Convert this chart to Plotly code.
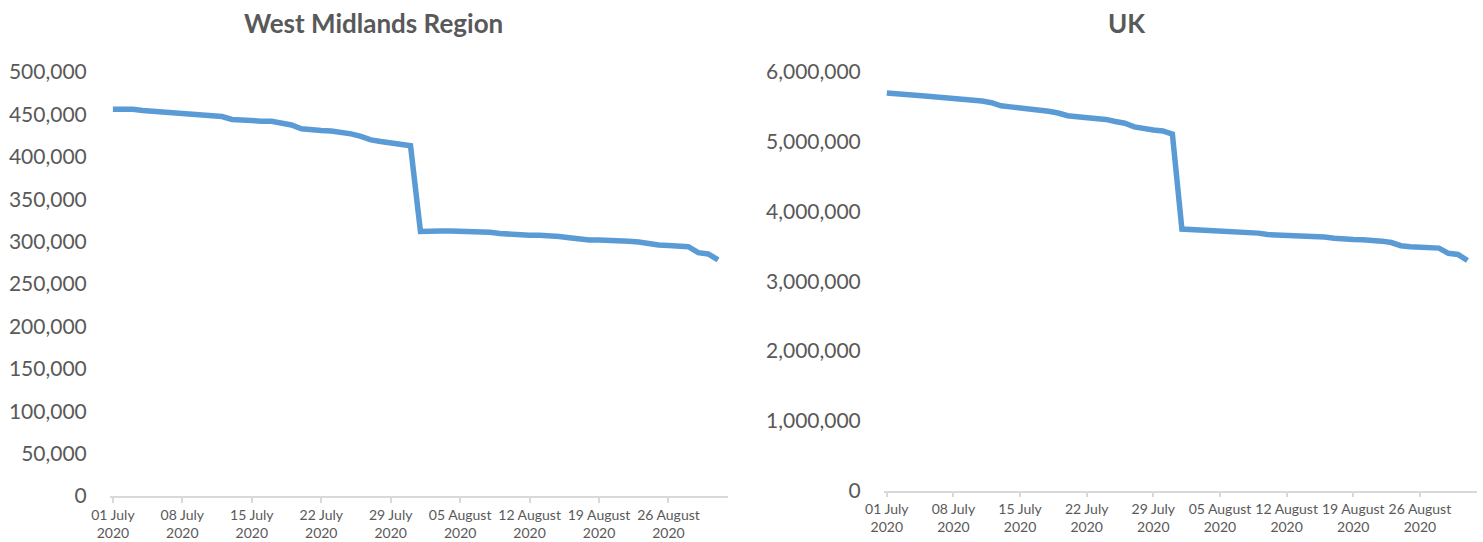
import pandas as pd
import plotly.graph_objects as go

W, H = 1483, 542

dates = pd.date_range("2020-07-01", "2020-08-31", freq="D")

west_midlands = [
    456000, 456500, 456000, 454500, 453500, 453000, 452000, 450000, 449500, 449500,
    448500, 447500, 444000, 443000, 443000, 442000, 442000, 440000, 437500, 433000,
    431500, 431000, 430500, 429500, 427000, 424000, 420000, 418000, 416500, 416000,
    413000, 312000, 311500, 312500, 312500, 312500, 312000, 311500, 311000, 309500,
    308500, 307500, 307500, 307500, 307500, 306000, 304500, 302500, 302000, 302000,
    302000, 301000, 300500, 299500, 297000, 296000, 295500, 295000, 294000, 287000,
    285500, 278500,
]

uk = [
    5700000, 5695000, 5685000, 5668000, 5655000, 5645000, 5630000, 5617000, 5608000, 5597000,
    5585000, 5560000, 5515000, 5500000, 5485000, 5472000, 5462000, 5437000, 5412000, 5373000,
    5360000, 5345000, 5343000, 5320000, 5290000, 5265000, 5213000, 5185000, 5168000, 5155000,
    5110000, 3748000, 3742000, 3733000, 3715000, 3713000, 3713000, 3710000, 3700000, 3690000,
    3670000, 3666000, 3665000, 3663000, 3658000, 3650000, 3633000, 3618000, 3600000, 3598000,
    3595000, 3590000, 3575000, 3555000, 3510000, 3495000, 3490000, 3485000, 3475000, 3400000,
    3385000, 3297000,
]

tick_dates = ["2020-07-01", "2020-07-08", "2020-07-15", "2020-07-22", "2020-07-29",
              "2020-08-05", "2020-08-12", "2020-08-19", "2020-08-26"]
tick_labels = ["01 July<br>2020", "08 July<br>2020", "15 July<br>2020", "22 July<br>2020",
               "29 July<br>2020", "05 August<br>2020", "12 August<br>2020",
               "19 August<br>2020", "26 August<br>2020"]

titles = ["West Midlands Region", "UK"]

LINE = "#5b9bd5"
TXT = "#595959"
AX = "#d9d9d9"
FONT = "Lato"

fig = go.Figure()
fig.add_trace(go.Scatter(x=dates, y=west_midlands, mode="lines",
                         line=dict(color=LINE, width=5.5), xaxis="x", yaxis="y",
                         showlegend=False, hoverinfo="skip"))
fig.add_trace(go.Scatter(x=dates, y=uk, mode="lines",
                         line=dict(color=LINE, width=5.5), xaxis="x2", yaxis="y2",
                         showlegend=False, hoverinfo="skip"))

def px(x):
    return x / W

def py(y):
    return (H - y) / H

xcommon = dict(
    type="date",
    range=["2020-06-30 17:00", "2020-09-01 00:00"],
    tickvals=tick_dates, ticktext=tick_labels,
    showgrid=False, zeroline=False,
    showline=True, linecolor=AX, linewidth=1.5,
    ticks="outside", ticklen=5, tickcolor=AX, tickwidth=1.5,
    tickfont=dict(family=FONT, size=14, color=TXT),
    tickangle=0, fixedrange=True, automargin=False,
)
ycommon = dict(
    showgrid=False, zeroline=False, showline=False,
    ticks="outside", ticklen=18, tickcolor="rgba(0,0,0,0)",
    tickfont=dict(family=FONT, size=21, color=TXT),
    tickformat=",d", fixedrange=True, automargin=False,
)

fig.update_layout(
    width=W, height=H,
    margin=dict(l=0, r=0, t=0, b=0, autoexpand=False),
    paper_bgcolor="white", plot_bgcolor="white",
    xaxis=dict(domain=[px(110), px(728)], anchor="y", **xcommon),
    yaxis=dict(domain=[py(496), py(72)], anchor="x", range=[0, 500000],
               tickvals=list(range(0, 500001, 50000)), **ycommon),
    xaxis2=dict(domain=[px(884), px(1477)], anchor="y2", **xcommon),
    yaxis2=dict(domain=[py(490.5), py(72)], anchor="x2", range=[0, 6000000],
                tickvals=list(range(0, 6000001, 1000000)), **ycommon),
    annotations=[
        dict(text="<b>%s</b>" % titles[0], x=px(373), y=py(23), xref="paper", yref="paper",
             showarrow=False, xanchor="center", yanchor="middle",
             font=dict(family=FONT, size=26, color=TXT)),
        dict(text="<b>%s</b>" % titles[1], x=px(1127), y=py(23), xref="paper", yref="paper",
             showarrow=False, xanchor="center", yanchor="middle",
             font=dict(family=FONT, size=26, color=TXT)),
    ],
)

fig.write_html("out.html")
